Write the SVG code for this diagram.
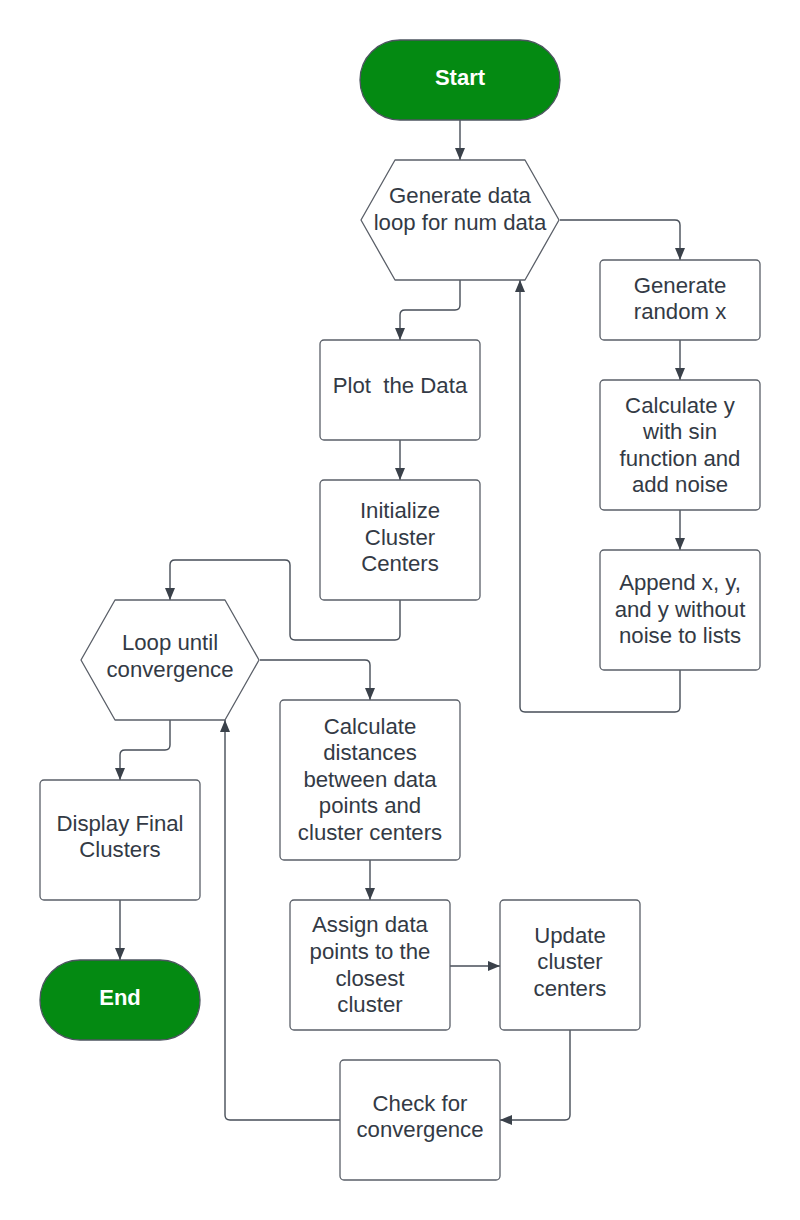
<svg xmlns="http://www.w3.org/2000/svg" width="800" height="1220" viewBox="0 0 800 1220">
<style>
.box{fill:#ffffff;stroke:#5a5f68;stroke-width:1.3}
.term{fill:#048a12;stroke:#4d5560;stroke-width:1.3}
.t{font-family:"Liberation Sans",Arial,sans-serif;font-size:22.2px;fill:#333a45;text-anchor:middle}
.tw{font-family:"Liberation Sans",Arial,sans-serif;font-size:22px;font-weight:bold;fill:#ffffff;text-anchor:middle}
.c{fill:none;stroke:#474e58;stroke-width:1.4;marker-end:url(#ah)}
</style>
<defs>
<marker id="ah" markerUnits="userSpaceOnUse" markerWidth="14" markerHeight="12" refX="12" refY="5" orient="auto">
<path d="M0,0 L12,5 L0,10 z" fill="#3a414a"/>
</marker>
</defs>
<g id="connectors">
<path class="c" d="M460,120 V160"/>
<path class="c" d="M560,220 H675 Q680,220 680,225 V260"/>
<path class="c" d="M680,340 V380"/>
<path class="c" d="M680,510 V550"/>
<path class="c" d="M680,670 V707 Q680,712 675,712 H525 Q520,712 520,707 V280"/>
<path class="c" d="M460,280 V305 Q460,310 455,310 H405 Q400,310 400,315 V340"/>
<path class="c" d="M400,440 V480"/>
<path class="c" d="M400,600 V635 Q400,640 395,640 H295 Q290,640 290,635 V565 Q290,560 285,560 H175 Q170,560 170,565 V600"/>
<path class="c" d="M260,660 H365 Q370,660 370,665 V700"/>
<path class="c" d="M170,720 V745 Q170,750 165,750 H125 Q120,750 120,755 V780"/>
<path class="c" d="M120,900 V960"/>
<path class="c" d="M370,860 V900"/>
<path class="c" d="M450,966 H500"/>
<path class="c" d="M570,1030 V1115 Q570,1120 565,1120 H500"/>
<path class="c" d="M340,1120 H230 Q225,1120 225,1115 V720"/>
</g>
<g id="start">
<rect class="term" x="360" y="40" width="200" height="80" rx="40"/>
<text class="tw" x="460" y="85">Start</text>
</g>
<g id="gen-loop">
<path class="box" d="M361,220 L395,160 H525 L559,220 L525,280 H395 Z" stroke-linejoin="round"/>
<text class="t" x="460" y="203">Generate data</text>
<text class="t" x="460" y="230">loop for num data</text>
</g>
<g id="gen-x">
<rect class="box" x="600" y="260" width="160" height="80" rx="4"/>
<text class="t" x="680" y="293">Generate</text>
<text class="t" x="680" y="319">random x</text>
</g>
<g id="calc-y">
<rect class="box" x="600" y="380" width="160" height="130" rx="4"/>
<text class="t" x="680" y="413">Calculate y</text>
<text class="t" x="680" y="439">with sin</text>
<text class="t" x="680" y="466">function and</text>
<text class="t" x="680" y="492">add noise</text>
</g>
<g id="append">
<rect class="box" x="600" y="550" width="160" height="120" rx="4"/>
<text class="t" x="680" y="590">Append x, y,</text>
<text class="t" x="680" y="617">and y without</text>
<text class="t" x="680" y="643">noise to lists</text>
</g>
<g id="plot">
<rect class="box" x="320" y="340" width="160" height="100" rx="4"/>
<text class="t" x="400" y="393" xml:space="preserve">Plot  the Data</text>
</g>
<g id="init">
<rect class="box" x="320" y="480" width="160" height="120" rx="4"/>
<text class="t" x="400" y="518">Initialize</text>
<text class="t" x="400" y="545">Cluster</text>
<text class="t" x="400" y="571">Centers</text>
</g>
<g id="loop-conv">
<path class="box" d="M81,660 L115,600 H225 L259,660 L225,720 H115 Z" stroke-linejoin="round"/>
<text class="t" x="170" y="650">Loop until</text>
<text class="t" x="170" y="677">convergence</text>
</g>
<g id="calc-dist">
<rect class="box" x="280" y="700" width="180" height="160" rx="4"/>
<text class="t" x="370" y="734">Calculate</text>
<text class="t" x="370" y="760">distances</text>
<text class="t" x="370" y="787">between data</text>
<text class="t" x="370" y="813">points and</text>
<text class="t" x="370" y="840">cluster centers</text>
</g>
<g id="display">
<rect class="box" x="40" y="780" width="160" height="120" rx="4"/>
<text class="t" x="120" y="831">Display Final</text>
<text class="t" x="120" y="857">Clusters</text>
</g>
<g id="end">
<rect class="term" x="40" y="960" width="160" height="80" rx="40"/>
<text class="tw" x="120" y="1005">End</text>
</g>
<g id="assign">
<rect class="box" x="290" y="900" width="160" height="130" rx="4"/>
<text class="t" x="370" y="932">Assign data</text>
<text class="t" x="370" y="959">points to the</text>
<text class="t" x="370" y="986">closest</text>
<text class="t" x="370" y="1012">cluster</text>
</g>
<g id="update">
<rect class="box" x="500" y="900" width="140" height="130" rx="4"/>
<text class="t" x="570" y="943">Update</text>
<text class="t" x="570" y="969">cluster</text>
<text class="t" x="570" y="996">centers</text>
</g>
<g id="check">
<rect class="box" x="340" y="1060" width="160" height="120" rx="4"/>
<text class="t" x="420" y="1111">Check for</text>
<text class="t" x="420" y="1137">convergence</text>
</g>
</svg>
